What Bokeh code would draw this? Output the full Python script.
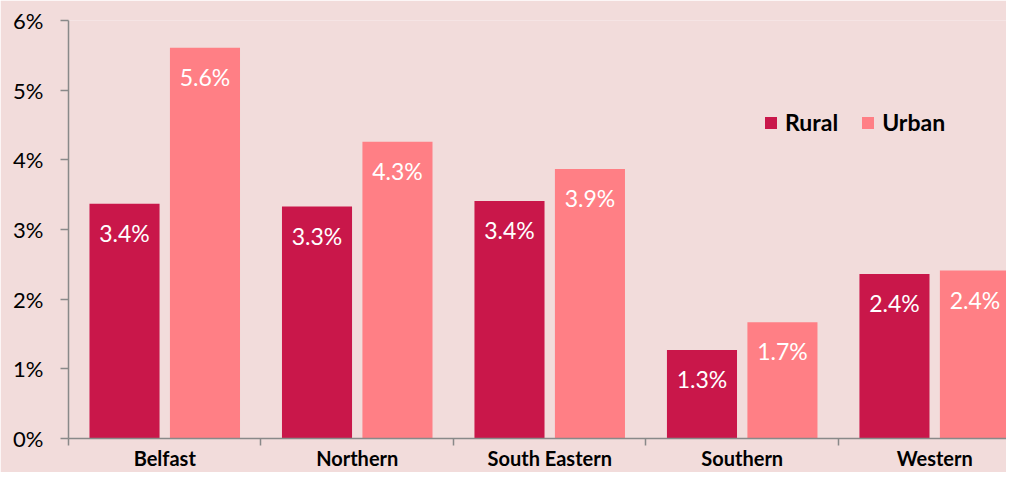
from bokeh.plotting import figure
from bokeh.models import ColumnDataSource, Range1d, FixedTicker, PrintfTickFormatter, Legend, LegendItem
from bokeh.core.properties import value
from bokeh.embed import file_html
from bokeh.resources import INLINE

categories = ["Belfast", "Northern", "South Eastern", "Southern", "Western"]
rural = [3.37, 3.33, 3.41, 1.27, 2.36]
urban = [5.61, 4.26, 3.87, 1.67, 2.41]
y_ticks = [0, 1, 2, 3, 4, 5, 6]

BG = "#F2DCDB"
RURAL_C = "#C9174A"
URBAN_C = "#FF7F85"
AXIS_C = "#898989"
FONT = "Lato"

idx = list(range(len(categories)))
centers = [i + 0.5 for i in idx]
off = 0.209
bw = 0.364

src_r = ColumnDataSource(dict(x=[c - off for c in centers], top=rural,
                              lab=["%.1f%%" % v for v in rural]))
src_u = ColumnDataSource(dict(x=[c + off for c in centers], top=urban,
                              lab=["%.1f%%" % v for v in urban]))

p = figure(width=1006, height=472, output_backend="svg", toolbar_location=None,
           x_range=Range1d(0, 4.873), y_range=Range1d(0, 6),
           min_border_left=68, min_border_right=0, min_border_top=20, min_border_bottom=32)
p.background_fill_color = BG
p.border_fill_color = BG
p.outline_line_color = None
p.xgrid.visible = False
p.ygrid.visible = False

r1 = p.vbar(x="x", top="top", width=bw, source=src_r, fill_color=RURAL_C, line_color=None)
r2 = p.vbar(x="x", top="top", width=bw, source=src_u, fill_color=URBAN_C, line_color=None)

for s in (src_r, src_u):
    p.text(x="x", y="top", text="lab", source=s, text_color="white",
           text_font=value(FONT), text_font_size="23px", text_align="center",
           text_baseline="middle", y_offset=29)

# x axis
xa = p.xaxis[0]
xa.ticker = FixedTicker(ticks=centers, minor_ticks=[float(i) for i in idx] + [5.0])
xa.major_label_overrides = {c: n for c, n in zip(centers, categories)}
xa.major_tick_out = 0
xa.major_tick_in = 0
xa.minor_tick_out = 7
xa.minor_tick_in = 0
xa.minor_tick_line_color = AXIS_C
xa.minor_tick_line_width = 1.5
xa.axis_line_color = AXIS_C
xa.axis_line_width = 1.5
xa.major_label_text_font = FONT
xa.major_label_text_font_style = "bold"
xa.major_label_text_font_size = "20px"
xa.major_label_text_color = "black"
xa.major_label_standoff = 0

# y axis
ya = p.yaxis[0]
ya.ticker = FixedTicker(ticks=y_ticks)
ya.formatter = PrintfTickFormatter(format="%d%%")
ya.major_tick_out = 8
ya.major_tick_in = 0
ya.minor_tick_out = 0
ya.minor_tick_in = 0
ya.major_tick_line_color = AXIS_C
ya.major_tick_line_width = 1.5
ya.axis_line_color = AXIS_C
ya.axis_line_width = 1.5
ya.major_label_text_font = FONT
ya.major_label_text_font_size = "22px"
ya.major_label_text_color = "black"
ya.major_label_standoff = 17

legend = Legend(items=[LegendItem(label="Rural", renderers=[r1]),
                       LegendItem(label="Urban", renderers=[r2])],
                location=(695, 302), orientation="horizontal",
                background_fill_alpha=0, border_line_alpha=0,
                label_text_font=FONT, label_text_font_style="bold",
                label_text_font_size="23px", label_text_color="black",
                glyph_width=15, glyph_height=15, spacing=22, label_standoff=7,
                padding=0, margin=0)
p.add_layout(legend)

open("out.html", "w").write(file_html(p, INLINE))
